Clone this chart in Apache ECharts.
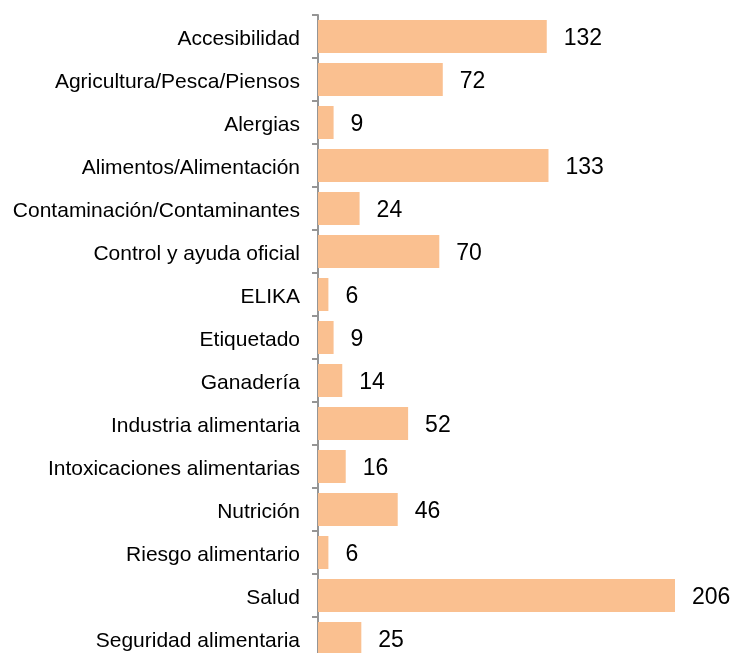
<!DOCTYPE html>
<html>
<head>
<meta charset="utf-8">
<script src="https://cdn.jsdelivr.net/npm/echarts@6/dist/echarts.min.js"></script>
<style>html,body{margin:0;padding:0;background:#fff;}#c{width:734px;height:653px;}</style>
</head>
<body>
<div id="c"></div>
<script>
const categories = ["Accesibilidad","Agricultura/Pesca/Piensos","Alergias","Alimentos/Alimentación","Contaminación/Contaminantes","Control y ayuda oficial","ELIKA","Etiquetado","Ganadería","Industria alimentaria","Intoxicaciones alimentarias","Nutrición","Riesgo alimentario","Salud","Seguridad alimentaria"];
const values = [132,72,9,133,24,70,6,9,14,52,16,46,6,206,25];

const chart = echarts.init(document.getElementById('c'), null, {renderer:'canvas'});
chart.setOption({
  animation:false,
  grid:{left:318, top:15, width:357, height:645, outerBoundsMode:'none', containLabel:false},
  xAxis:{type:'value', min:0, max:206, show:false},
  yAxis:{
    type:'category', data:categories, inverse:true,
    axisLine:{show:true, lineStyle:{color:'#959595', width:2}},
    axisTick:{show:true, length:6, lineStyle:{color:'#959595', width:2}},
    axisLabel:{
      fontFamily:'Liberation Sans, Arial', fontSize:21, color:'#000', margin:18,
      formatter: v => '{a|' + v + '}',
      rich:{a:{fontFamily:'Liberation Sans, Arial', fontSize:21, color:'#000', padding:[5,0,0,0]}}
    }
  },
  series:[{
    type:'bar', data:values, barWidth:33,
    itemStyle:{color:'#FAC090'},
    label:{show:true, position:'right', distance:17, offset:[0,2], fontFamily:'Liberation Sans, Arial', fontSize:23, color:'#000'}
  }]
});
</script>
</body>
</html>
